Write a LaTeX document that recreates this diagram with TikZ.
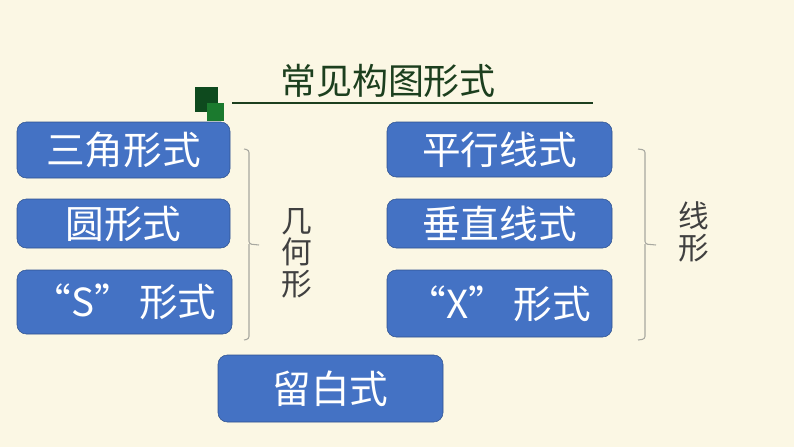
\documentclass[tikz,border=0pt]{standalone}
\usepackage{fontspec}
\setmainfont{Noto Sans CJK SC}
\definecolor{bgcream}{HTML}{FBF7E4}
\definecolor{boxblue}{HTML}{4472C4}
\definecolor{boxedge}{HTML}{2F528F}
\definecolor{darkgreen}{HTML}{0E4A1E}
\definecolor{lightgreen}{HTML}{1B7A2E}
\definecolor{titlegreen}{HTML}{1C3F1E}
\definecolor{bracegray}{HTML}{A8A8A0}
\tikzset{
  formbox/.style 2 args={draw=boxedge, fill=boxblue, rounded corners=7pt,
    text=white, font=\fontsize{29}{30}\selectfont, inner sep=0pt,
    minimum width=#1*0.75pt, minimum height=#2*0.75pt},
  brace/.style={draw=bracegray, line width=0.8pt, rounded corners=2pt},
  sidelabel/.style={text=black!75, align=center, font=\fontsize{23}{23.5}\selectfont}
}
\begin{document}
\begin{tikzpicture}[x=0.75pt, y=-0.75pt]
\fill[bgcream] (0,0) rectangle (794,447);
\useasboundingbox (0,0) rectangle (794,447);

% title
\fill[darkgreen] (195,87) rectangle (218,112);
\fill[lightgreen] (207,103) rectangle (224,121);
\node[text=titlegreen, font=\fontsize{27}{28}\selectfont] (title) at (388,81) {常见构图形式};
\draw[titlegreen, line width=1pt] (232,103) -- (593,103);

% geometric forms
\node[formbox={213}{56}] (sanjiao) at (123.5,150) {三角形式};
\node[formbox={213}{49}] (yuan) at (123.5,223.5) {圆形式};
\node[formbox={215}{64}] (sxing) at (124.5,302) {“S”\,形式};
\path[brace] (244,149) -- (249,150) -- (249,244) -- (259,245);
\path[brace] (249,244) -- (249,339) -- (244,340);
\node[sidelabel] (jihe) at (297,253) {几\\何\\形};

% line forms
\node[formbox={225}{55}] (pingxing) at (499.5,149.5) {平行线式};
\node[formbox={225}{49}] (chuizhi) at (499.5,223.5) {垂直线式};
\node[formbox={225}{67}] (xxing) at (499.5,303.5) {“X”\,形式};
\path[brace] (638,149) -- (645,150) -- (645,244) -- (656,245);
\path[brace] (645,244) -- (645,339) -- (638,340);
\node[sidelabel] (xian) at (694,232) {线\\形};

% blank
\node[formbox={225}{67}] (liubai) at (330.5,388.5) {留白式};
\end{tikzpicture}
\end{document}
